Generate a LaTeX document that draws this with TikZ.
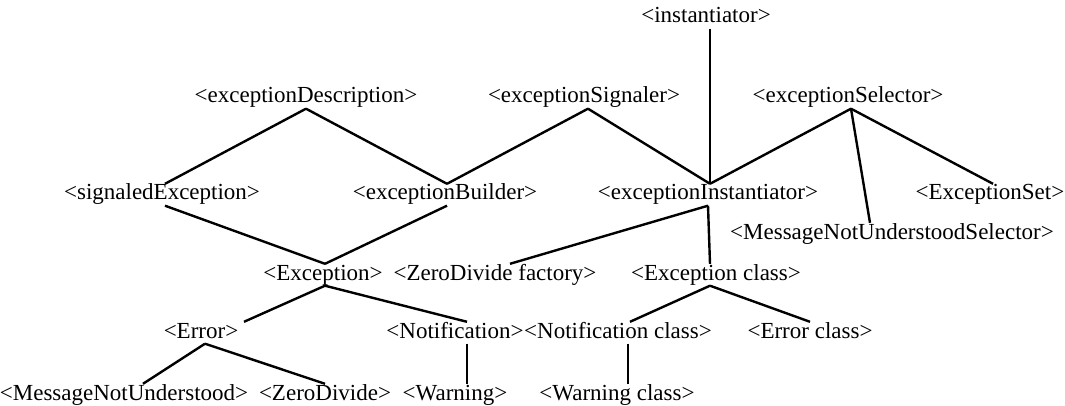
\documentclass[tikz,border=0pt]{standalone}
\usepackage{fontspec}
\setmainfont{Liberation Serif}
\begin{document}
\begin{tikzpicture}[x=1pt,y=-1pt,
  term/.style={anchor=base,inner sep=0.5pt,text height=15.5pt,text depth=5pt,
    font=\fontsize{23}{27}\selectfont},
  link/.style={line width=2.4pt}]
\useasboundingbox (0,0) rectangle (1065,406);

% upper part
\node[term] (inst) at (706,23) {<instantiator>};
\node[term] (edesc) at (306,103) {<exceptionDescription>};
\node[term] (esig) at (584,103) {<exceptionSignaler>};
\node[term] (esel) at (848,103) {<exceptionSelector>};
\node[term] (sigexc) at (162,200) {<signaledException>};
\node[term] (ebuild) at (445,200) {<exceptionBuilder>};
\node[term] (einst) at (708,200) {<exceptionInstantiator>};
\node[term] (eset) at (990,200) {<ExceptionSet>};
\node[term] (mnusel) at (892,239) {<MessageNotUnderstoodSelector>};

% lower part
\node[term] (exc) at (323,280) {<Exception>};
\node[term] (zdfact) at (495,280) {<ZeroDivide factory>};
\node[term] (exccls) at (716,280) {<Exception class>};
\node[term] (err) at (201,338) {<Error>};
\node[term] (notif) at (455,338) {<Notification>};
\node[term] (notcls) at (618,338) {<Notification class>};
\node[term] (errcls) at (810,338) {<Error class>};
\node[term] (mnu) at (124,400) {<MessageNotUnderstood>};
\node[term] (zdiv) at (325,400) {<ZeroDivide>};
\node[term] (warn) at (455,400) {<Warning>};
\node[term] (warncls) at (617,400) {<Warning class>};

\draw[link] ([xshift=4pt]inst.south) -- ([xshift=2pt]einst.north);
\draw[link] (edesc.south) -- ([xshift=3pt]sigexc.north);
\draw[link] (edesc.south) -- ([xshift=2pt]ebuild.north);
\draw[link] ([xshift=4pt]esig.south) -- ([xshift=2pt]ebuild.north);
\draw[link] ([xshift=4pt]esig.south) -- ([xshift=2pt]einst.north);
\draw[link] ([xshift=3pt]esel.south) -- ([xshift=2pt]einst.north);
\draw[link] ([xshift=3pt]esel.south) -- ([xshift=-22pt]mnusel.north);
\draw[link] ([xshift=3pt]esel.south) -- ([xshift=3pt]eset.north);
\draw[link] ([xshift=3pt]sigexc.south) -- ([xshift=2pt]exc.north);
\draw[link] ([xshift=2pt]ebuild.south) -- ([xshift=2pt]exc.north);
\draw[link] (einst.south) -- ([xshift=15pt]zdfact.north);
\draw[link] (einst.south) -- ([xshift=-6pt]exccls.north);
\draw[link] ([xshift=2pt]exc.south) -- ([xshift=43pt]err.north);
\draw[link] ([xshift=2pt]exc.south) -- ([xshift=12pt]notif.north);
\draw[link] ([xshift=4pt]err.south) -- ([xshift=19pt]mnu.north);
\draw[link] ([xshift=4pt]err.south) -- (zdiv.north);
\draw[link] ([xshift=12pt]notif.south) -- ([xshift=12pt]warn.north);
\draw[link] ([xshift=-6pt]exccls.south) -- ([xshift=12pt]notcls.north);
\draw[link] ([xshift=-6pt]exccls.south) -- (errcls.north);
\draw[link] ([xshift=10pt]notcls.south) -- ([xshift=11pt]warncls.north);

\end{tikzpicture}
\end{document}
